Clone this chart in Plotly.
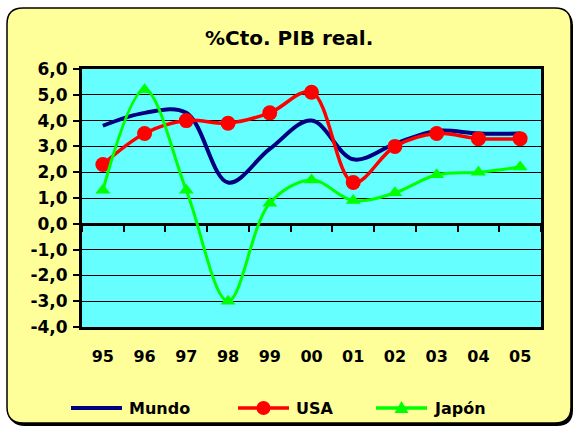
import plotly.graph_objects as go

# Real GDP growth (%), 1995-2005
years = ["95", "96", "97", "98", "99", "00", "01", "02", "03", "04", "05"]
mundo = [3.8, 4.3, 4.3, 1.6, 2.9, 4.0, 2.5, 3.1, 3.6, 3.5, 3.5]
usa = [2.3, 3.5, 4.0, 3.9, 4.3, 5.1, 1.6, 3.0, 3.5, 3.3, 3.3]
japon = [1.3, 5.2, 1.3, -3.0, 0.8, 1.7, 0.9, 1.2, 1.9, 2.0, 2.2]
y_ticks = [-4, -3, -2, -1, 0, 1, 2, 3, 4, 5, 6]
y_ticktext = [f"{v:.1f}".replace(".", ",") for v in y_ticks]

NAVY = "#000080"
RED = "#FF0000"
GREEN = "#00FF00"
CYAN = "#66FFFF"
YELLOW = "#FFFF99"
FONT = "DejaVu Sans"

W, H = 573, 428
ML, MR, MT, MB = 82, 32, 69, 101
PW, PH = W - ML - MR, H - MT - MB


def px(x):
    return (x - ML) / PW


def py(y):
    return (H - MB - y) / PH


def rounded_rect(x0, y0, x1, y1, r):
    rx, ry = r / PW, r / PH
    a, b, c, d = px(x0), px(x1), py(y0), py(y1)
    return (f"M{a + rx},{c} L{b - rx},{c} Q{b},{c} {b},{c - ry} "
            f"L{b},{d + ry} Q{b},{d} {b - rx},{d} L{a + rx},{d} "
            f"Q{a},{d} {a},{d + ry} L{a},{c - ry} Q{a},{c} {a + rx},{c} Z")


xs = list(range(len(years)))

fig = go.Figure()
fig.add_trace(go.Scatter(x=xs, y=mundo, name="Mundo", mode="lines",
                         line=dict(color=NAVY, width=4, shape="spline", smoothing=1.0)))
fig.add_trace(go.Scatter(x=xs, y=usa, name="USA", mode="lines+markers",
                         line=dict(color=RED, width=3.5, shape="spline", smoothing=1.0),
                         marker=dict(symbol="circle", size=15, color=RED)))
fig.add_trace(go.Scatter(x=xs, y=japon, name="Japón", mode="lines+markers",
                         xaxis="x2",
                         line=dict(color=GREEN, width=3, shape="spline", smoothing=1.0),
                         marker=dict(symbol="triangle-up", size=13, color=GREEN)))

shapes = [
    # card shadow, card and plot area
    dict(type="path", xref="paper", yref="paper", layer="below",
         path=rounded_rect(9, 10, 573, 426, 16), fillcolor="black", line=dict(width=0)),
    dict(type="path", xref="paper", yref="paper", layer="below",
         path=rounded_rect(7, 8, 571, 423, 16), fillcolor=YELLOW,
         line=dict(color="black", width=1.5)),
    dict(type="rect", xref="paper", yref="paper", layer="below",
         x0=0, x1=1, y0=0, y1=1, fillcolor=CYAN, line=dict(width=0)),
]

annotations = [
    dict(text="%Cto. PIB real.", xref="paper", yref="paper", x=px(289), y=py(38),
         showarrow=False, xanchor="center", yanchor="middle",
         font=dict(family=FONT, size=20, color="black", weight="bold")),
]

# legend row
leg_y = 408
legend_items = [("Mundo", NAVY, 71, None), ("USA", RED, 238, "circle"),
                ("Japón", GREEN, 376, "triangle")]
for name, col, lx, sym in legend_items:
    shapes.append(dict(type="line", xref="paper", yref="paper",
                       x0=px(lx), x1=px(lx + 51), y0=py(leg_y), y1=py(leg_y),
                       line=dict(color=col, width=4 if sym is None else 3.5)))
    cx = px(lx + 25.5)
    if sym == "circle":
        shapes.append(dict(type="circle", xref="paper", yref="paper",
                           xsizemode="pixel", ysizemode="pixel",
                           xanchor=cx, yanchor=py(leg_y),
                           x0=-7, x1=7, y0=-7, y1=7,
                           fillcolor=col, line=dict(width=0)))
    elif sym == "triangle":
        shapes.append(dict(type="path", xref="paper", yref="paper",
                           xsizemode="pixel", ysizemode="pixel",
                           xanchor=cx, yanchor=py(leg_y),
                           path="M-7,-5 L7,-5 L0,7 Z",
                           fillcolor=col, line=dict(width=0)))
    annotations.append(dict(text=name, xref="paper", yref="paper",
                            x=px(lx + 56), y=py(leg_y), showarrow=False,
                            xanchor="left", yanchor="middle",
                            font=dict(family=FONT, size=16, color="black", weight="bold")))

fig.update_layout(
    width=W, height=H, autosize=False,
    margin=dict(l=ML, r=MR, t=MT, b=MB, pad=0),
    paper_bgcolor="white", plot_bgcolor=CYAN,
    showlegend=False,
    shapes=shapes, annotations=annotations,
    xaxis=dict(range=[-0.5, 10.5], tickmode="array", tickvals=xs, ticktext=years,
               ticks="", showgrid=False, zeroline=False,
               showline=True, mirror=True, linecolor="black", linewidth=3,
               ticklabelstandoff=13,
               tickfont=dict(family=FONT, size=16, color="black", weight="bold")),
    xaxis2=dict(overlaying="x", matches="x", anchor="free", position=0.4,
                range=[-0.5, 10.5], tickmode="linear", tick0=-0.5, dtick=1,
                ticks="outside", ticklen=6, tickwidth=2, tickcolor="black",
                showticklabels=False, showgrid=False, zeroline=False,
                showline=True, linecolor="black", linewidth=3, layer="below traces"),
    yaxis=dict(range=[-4, 6], tickmode="array", tickvals=y_ticks, ticktext=y_ticktext,
               ticks="outside", ticklen=6, tickwidth=2, tickcolor="black",
               ticklabelstandoff=2,
               showgrid=True, gridcolor="black", gridwidth=1, zeroline=False,
               showline=True, mirror=True, linecolor="black", linewidth=3,
               tickfont=dict(family=FONT, size=17, color="black", weight="bold")),
)

fig.write_html("out.html")
